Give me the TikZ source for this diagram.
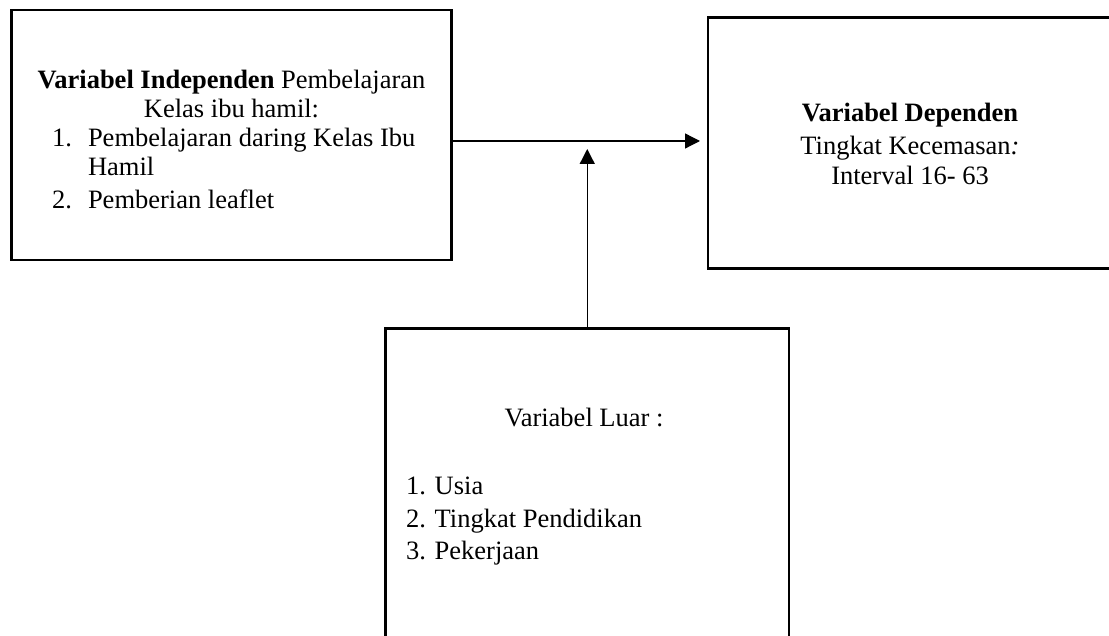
\documentclass[tikz,border=0pt]{standalone}
\usepackage{fontspec}
\setmainfont{Liberation Serif}
\usetikzlibrary{arrows.meta}
\begin{document}
\begin{tikzpicture}[x=1pt,y=-1pt,
  box/.style={draw, line width=2.6pt, inner sep=0pt, fill=none},
  conn/.style={line width=1.3pt, -{Triangle[length=15pt,width=15pt]}},
  txt/.style={font=\fontsize{26.5}{30}\selectfont, inner sep=0pt, outer sep=0pt}]
\useasboundingbox (0,0) rectangle (1109,636);
\begin{scope}
\clip (0,0) rectangle (1109,636);
% boxes
\node[box, minimum width=440pt, minimum height=250pt] (ind) at (231.5,135) {};
\node[box, minimum width=404pt, minimum height=251pt] (dep) at (910,143) {};
\node[box, minimum width=403.5pt, minimum height=372pt] (luar) at (587.25,514.5) {};
\end{scope}
% left box text
\node[txt, anchor=base] (i1) at (231.5,89) {\textbf{Variabel Independen} Pembelajaran};
\node[txt, anchor=base] (i2) at (231.5,118) {Kelas ibu hamil:};
\node[txt, anchor=base west] (i3n) at (52,147) {1.};
\node[txt, anchor=base west] (i3) at (88,147) {Pembelajaran daring Kelas Ibu};
\node[txt, anchor=base west] (i4) at (88,176) {Hamil};
\node[txt, anchor=base west] (i5n) at (52,209) {2.};
\node[txt, anchor=base west] (i5) at (88,209) {Pemberian leaflet};
% right box text
\node[txt, anchor=base] (d1) at (910,122) {\textbf{Variabel Dependen}};
\node[txt, anchor=base] (d2) at (910,155) {Tingkat Kecemasan\textit{:}};
\node[txt, anchor=base] (d3) at (910,185) {Interval 16- 63};
% bottom box text
\node[txt, anchor=base] (l0) at (584,426) {Variabel Luar :};
\node[txt, anchor=base west] (l1) at (406,494) {1. Usia};
\node[txt, anchor=base west] (l2) at (406,527) {2. Tingkat Pendidikan};
\node[txt, anchor=base west] (l3) at (406,559) {3. Pekerjaan};
% connectors
\draw[conn, shorten >=6.7pt] ([yshift=-6pt]ind.east) -- ([yshift=-6pt]ind.east -| dep.west);
\coordinate (vtip) at (587.25,149);
\draw[conn] (luar.north) -- (vtip);
\end{tikzpicture}
\end{document}
